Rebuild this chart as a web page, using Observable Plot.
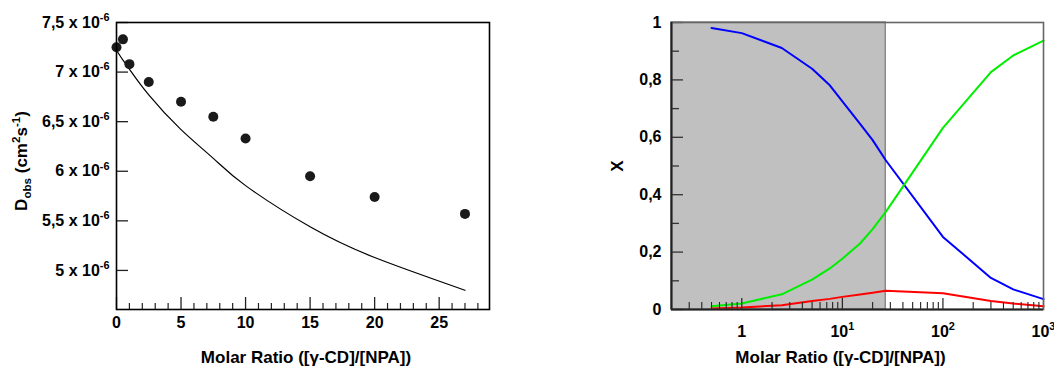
<!DOCTYPE html>
<html><head><meta charset="utf-8">
<script src="https://cdn.jsdelivr.net/npm/d3@7"></script>
<script src="https://cdn.jsdelivr.net/npm/@observablehq/plot@0.6"></script>
<style>
html,body{margin:0;padding:0;background:#fff;}
#wrap{position:relative;width:1054px;height:367px;overflow:hidden;background:#fff;}
#wrap svg{position:absolute;top:0;overflow:visible;}
</style></head><body><div id="wrap"></div>
<script>
// ---------- Left panel data ----------
const ratio = [0, 0.5, 1, 2.5, 5, 7.5, 10, 15, 20, 27];
const dObs = [7.25, 7.33, 7.08, 6.90, 6.70, 6.55, 6.33, 5.95, 5.74, 5.57]; // x 10^-6 cm2/s
const fitRatio = [0, 0.5, 1, 2.5, 5, 7.5, 10, 15, 20, 27];
const dFit = [7.22, 7.12, 7.03, 6.77, 6.42, 6.13, 5.855, 5.44, 5.13, 4.80];
const dTicks = [5, 5.5, 6, 6.5, 7, 7.5];
const dTickLabels = ["5 x 10^{-6}", "5,5 x 10^{-6}", "6 x 10^{-6}", "6,5 x 10^{-6}", "7 x 10^{-6}", "7,5 x 10^{-6}"];
const ratioMajor = [0, 5, 10, 15, 20, 25];
const ratioMajorLabels = ["0", "5", "10", "15", "20", "25"];
const ratioMinor = [1, 2, 3, 4, 6, 7, 8, 9, 11, 12, 13, 14, 16, 17, 18, 19, 21, 22, 23, 24, 26, 27, 28];
const leftYLabel = "D_{obs} (cm^{2}s^{-1})";
const xLabel = "Molar Ratio ([γ-CD]/[NPA])";

// ---------- Right panel data ----------
const molar = [0.5, 1, 2.5, 5, 7.5, 10, 15, 20, 27, 100, 300, 500, 1000];
const fracBlue = [0.981, 0.963, 0.911, 0.839, 0.781, 0.725, 0.647, 0.59, 0.52, 0.253, 0.11, 0.07, 0.036];
const fracGreen = [0.0115, 0.021, 0.053, 0.104, 0.143, 0.177, 0.23, 0.28, 0.34, 0.633, 0.827, 0.885, 0.937];
const fracRed = [0.0035, 0.007, 0.015, 0.03, 0.037, 0.044, 0.052, 0.058, 0.065, 0.057, 0.03, 0.021, 0.0115];
const shadeRange = [0.2, 27];
const xMajor = [1, 10, 100, 1000];
const xMajorLabels = ["1", "10^{1}", "10^{2}", "10^{3}"];
const xMinor = [0.3,0.4,0.5,0.6,0.7,0.8,0.9, 2,3,4,5,6,7,8,9, 20,30,40,50,60,70,80,90, 200,300,400,500,600,700,800,900];
const fracMajor = [0, 0.2, 0.4, 0.6, 0.8, 1];
const fracMajorLabels = ["0", "0,2", "0,4", "0,6", "0,8", "1"];
const fracMinor = [0.1, 0.3, 0.5, 0.7, 0.9];
const rightYLabel = "X";

const FONT = "'Liberation Sans', Arial, Helvetica, sans-serif";
const wrap = document.getElementById("wrap");

// ---------- Left ----------
const L = {width: 520, height: 367, ml: 116, mr: 31, mt: 22, mb: 58};
const Lpw = L.width - L.ml - L.mr, Lph = L.height - L.mt - L.mb;
const obs = ratio.map((r, i) => ({r, d: dObs[i]}));
const fit = fitRatio.map((r, i) => ({r, d: dFit[i]}));
const dLab = new Map(dTicks.map((t, i) => [t, dTickLabels[i]]));
const rLab = new Map(ratioMajor.map((t, i) => [t, ratioMajorLabels[i]]));

const left = Plot.plot({
  width: L.width, height: L.height,
  marginLeft: L.ml, marginRight: L.mr, marginTop: L.mt, marginBottom: L.mb,
  style: {fontFamily: FONT, fontWeight: "bold", fontSize: "16px", background: "transparent"},
  x: {domain: [0, 28.9]},
  y: {domain: [4.606, 7.5]},
  marks: [
    Plot.line(fit, {x: "r", y: "d", stroke: "black", strokeWidth: 1.2, curve: "natural"}),
    Plot.dot(obs, {x: "r", y: "d", r: 5, fill: "#1a1a1a", stroke: "none"}),
    Plot.tickY(dTicks, {y: d => d, insetRight: Lpw - 12, stroke: "#222", strokeWidth: 1.3}),
    Plot.tickX(ratioMajor, {x: d => d, insetTop: Lph - 12, stroke: "#222", strokeWidth: 1.3}),
    Plot.tickX(ratioMinor, {x: d => d, insetTop: Lph - 6, stroke: "#222", strokeWidth: 1.2}),
    Plot.axisY({ticks: dTicks, tickSize: 0, tickPadding: 7, tickFormat: d => dLab.get(d), label: null, fontSize: 16}),
    Plot.axisX({ticks: ratioMajor, tickSize: 0, tickPadding: 7, tickFormat: d => rLab.get(d), label: null, fontSize: 16}),
    Plot.frame({stroke: "black", strokeWidth: 1.6}),
    Plot.text([leftYLabel], {frameAnchor: "left", textAnchor: "middle", rotate: -90, dx: -95, dy: -5, fontSize: 17, text: d => d}),
    Plot.text([xLabel], {frameAnchor: "bottom", textAnchor: "middle", lineAnchor: "middle", dy: 48, dx: 3, fontSize: 17, text: d => d})
  ]
});
left.style.left = "0px";
wrap.appendChild(left);

// ---------- Right ----------
const R = {left: 527, width: 527, height: 367, ml: 144, mr: 11, mt: 22, mb: 58};
const Rpw = R.width - R.ml - R.mr, Rph = R.height - R.mt - R.mb;
const series = [
  {c: "#0000ff", v: fracBlue},
  {c: "#00ee00", v: fracGreen},
  {c: "#ff0000", v: fracRed}
];
const fLab = new Map(fracMajor.map((t, i) => [t, fracMajorLabels[i]]));
const xLab = new Map(xMajor.map((t, i) => [t, xMajorLabels[i]]));

const right = Plot.plot({
  width: R.width, height: R.height,
  marginLeft: R.ml, marginRight: R.mr, marginTop: R.mt, marginBottom: R.mb,
  style: {fontFamily: FONT, fontWeight: "bold", fontSize: "16px", background: "transparent"},
  x: {type: "log", domain: [0.2, 1000]},
  y: {domain: [0, 1]},
  marks: [
    Plot.rect([shadeRange], {x1: d => d[0], x2: d => d[1], y1: 0, y2: 1, fill: "#c0c0c0", stroke: "#8a8a8a", strokeWidth: 1.5}),
    ...series.map(s => Plot.line(molar.map((m, i) => ({m, f: s.v[i]})), {x: "m", y: "f", stroke: s.c, strokeWidth: 2})),
    Plot.tickY(fracMajor, {y: d => d, insetRight: Rpw - 12, stroke: "#333", strokeWidth: 1.3}),
    Plot.tickY(fracMinor, {y: d => d, insetRight: Rpw - 8, stroke: "#333", strokeWidth: 1.3}),
    Plot.tickX(xMajor, {x: d => d, insetTop: Rph - 11, stroke: "#222", strokeWidth: 1.2}),
    Plot.tickX(xMinor, {x: d => d, insetTop: Rph - 7, stroke: "#222", strokeWidth: 1.1}),
    Plot.axisY({ticks: fracMajor, tickSize: 0, tickPadding: 10, tickFormat: d => fLab.get(d), label: null, fontSize: 16}),
    Plot.axisX({ticks: xMajor, tickSize: 0, tickPadding: 16, tickFormat: d => xLab.get(d), label: null, fontSize: 16}),
    Plot.frame({stroke: "#666", strokeWidth: 1.6}),
    Plot.ruleX([shadeRange[0]], {stroke: "#222", strokeWidth: 2}),
    Plot.ruleY([0], {stroke: "#222", strokeWidth: 2}),
    Plot.text([rightYLabel], {frameAnchor: "left", textAnchor: "middle", rotate: -90, dx: -54, fontSize: 17, text: d => d}),
    Plot.text([xLabel], {frameAnchor: "bottom", textAnchor: "middle", lineAnchor: "middle", dy: 48, dx: -17, fontSize: 17, text: d => d})
  ]
});
right.style.left = R.left + "px";
wrap.appendChild(right);

// ---------- rich text: ^{sup} and _{sub} ----------
function richText(svg) {
  d3.select(svg).selectAll("text").each(function() {
    const el = this;
    const s = el.textContent;
    if (!/[\^_]\{/.test(s)) return;
    const fs = parseFloat(getComputedStyle(el).fontSize) || 16;
    const parts = []; let last = 0, m; const re = /([\^_])\{([^}]*)\}/g;
    while ((m = re.exec(s))) {
      if (m.index > last) parts.push({t: s.slice(last, m.index), k: ""});
      parts.push({t: m[2], k: m[1]});
      last = re.lastIndex;
    }
    if (last < s.length) parts.push({t: s.slice(last), k: ""});
    while (el.firstChild) el.removeChild(el.firstChild);
    let off = 0;
    for (const p of parts) {
      const target = p.k === "^" ? -0.42 * fs : p.k === "_" ? 0.22 * fs : 0;
      const ts = d3.select(el).append("tspan").text(p.t).attr("dy", (target - off).toFixed(2));
      if (p.k) ts.attr("font-size", (0.68 * fs).toFixed(1));
      off = target;
    }
  });
}
richText(left);
richText(right);
</script></body></html>
